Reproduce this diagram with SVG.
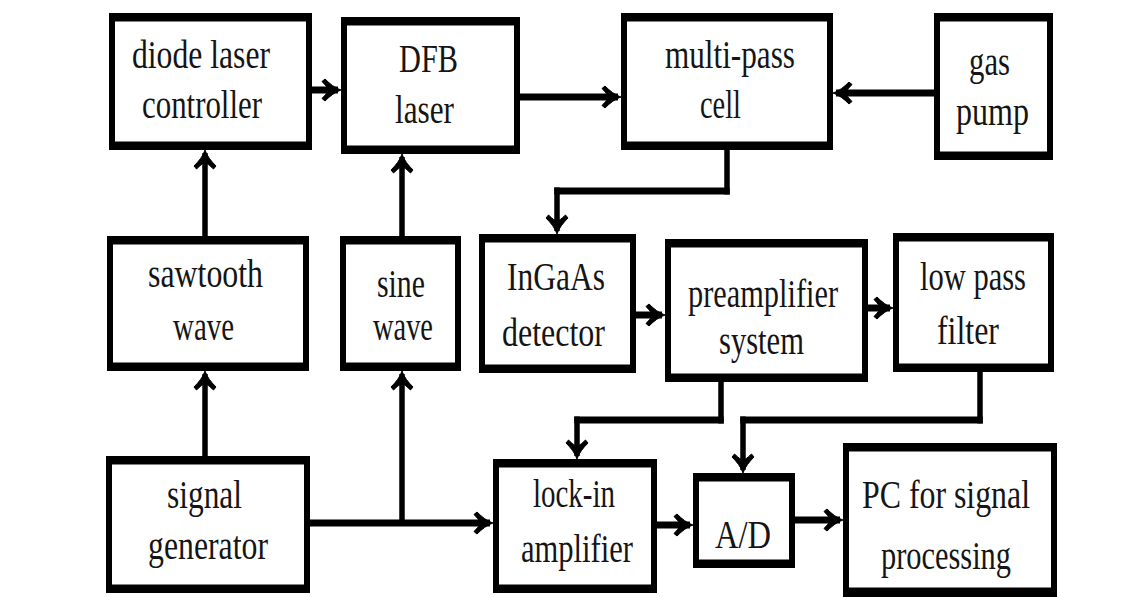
<svg xmlns="http://www.w3.org/2000/svg" width="1140" height="597" viewBox="0 0 1140 597">
  <style>
    .frame { fill: #000; }
    .face { fill: #fff; }
    .lbl { font-family: "Liberation Serif", "Times New Roman", serif; font-size: 39px; fill: #151515; }
    .h { stroke: #000; stroke-width: 7; fill: none; }
    .v { stroke: #000; stroke-width: 5.5; fill: none; }
    .arr { marker-end: url(#head); }
  </style>
  <defs>
    <!-- swept-barb arrowhead; its tip sits 3px past the end of the line -->
    <marker id="head" markerUnits="userSpaceOnUse" markerWidth="40" markerHeight="40" refX="0" refY="0" orient="auto" overflow="visible">
      <path d="M 3 0 C -3 -2 -8 -6 -13 -11 L -16 -8.5 C -12 -4 -10 -2 -10 0 C -10 2 -12 4 -16 8.5 L -13 11 C -8 6 -3 2 3 0 Z" fill="#000" stroke="#000" stroke-width="1" stroke-linejoin="round"/>
    </marker>
  </defs>
  <rect width="1140" height="597" fill="#fff"/>

  <!-- nodes: black frame with white face (thicker top/bottom borders) -->
  <g id="diode-laser-controller">
    <rect class="frame" x="109" y="13" width="203" height="137"/>
    <rect class="face" x="115" y="21.5" width="191" height="120"/>
    <text class="lbl" x="132" y="68" textLength="138" lengthAdjust="spacingAndGlyphs">diode laser</text>
    <text class="lbl" x="142" y="118" textLength="120" lengthAdjust="spacingAndGlyphs">controller</text>
  </g>
  <g id="dfb-laser">
    <rect class="frame" x="341" y="17" width="179" height="137"/>
    <rect class="face" x="347" y="25.5" width="167" height="120"/>
    <text class="lbl" x="399" y="72" textLength="59" lengthAdjust="spacingAndGlyphs">DFB</text>
    <text class="lbl" x="395" y="123" textLength="59" lengthAdjust="spacingAndGlyphs">laser</text>
  </g>
  <g id="multi-pass-cell">
    <rect class="frame" x="621" y="13" width="212" height="137"/>
    <rect class="face" x="627" y="21.5" width="200" height="120"/>
    <text class="lbl" x="665" y="68" textLength="130" lengthAdjust="spacingAndGlyphs">multi-pass</text>
    <text class="lbl" x="700" y="118" textLength="41" lengthAdjust="spacingAndGlyphs">cell</text>
  </g>
  <g id="gas-pump">
    <rect class="frame" x="934" y="13" width="119" height="147"/>
    <rect class="face" x="940" y="21.5" width="107" height="130"/>
    <text class="lbl" x="969" y="75" textLength="41" lengthAdjust="spacingAndGlyphs">gas</text>
    <text class="lbl" x="956" y="125" textLength="73" lengthAdjust="spacingAndGlyphs">pump</text>
  </g>
  <g id="sawtooth-wave">
    <rect class="frame" x="107" y="236" width="202" height="135"/>
    <rect class="face" x="113" y="244.5" width="190" height="118"/>
    <text class="lbl" x="148" y="287" textLength="115" lengthAdjust="spacingAndGlyphs">sawtooth</text>
    <text class="lbl" x="173" y="340" textLength="61" lengthAdjust="spacingAndGlyphs">wave</text>
  </g>
  <g id="sine-wave">
    <rect class="frame" x="340" y="236" width="121" height="135"/>
    <rect class="face" x="346" y="244.5" width="109" height="118"/>
    <text class="lbl" x="377" y="297" textLength="48" lengthAdjust="spacingAndGlyphs">sine</text>
    <text class="lbl" x="373" y="340" textLength="60" lengthAdjust="spacingAndGlyphs">wave</text>
  </g>
  <g id="ingaas-detector">
    <rect class="frame" x="479" y="234" width="157" height="139"/>
    <rect class="face" x="485" y="242.5" width="145" height="122"/>
    <text class="lbl" x="507" y="290" textLength="98" lengthAdjust="spacingAndGlyphs">InGaAs</text>
    <text class="lbl" x="502" y="346" textLength="103" lengthAdjust="spacingAndGlyphs">detector</text>
  </g>
  <g id="preamplifier-system">
    <rect class="frame" x="665" y="239" width="203" height="143"/>
    <rect class="face" x="671" y="247.5" width="191" height="126"/>
    <text class="lbl" x="688" y="307" textLength="150" lengthAdjust="spacingAndGlyphs">preamplifier</text>
    <text class="lbl" x="719" y="354" textLength="85" lengthAdjust="spacingAndGlyphs">system</text>
  </g>
  <g id="low-pass-filter">
    <rect class="frame" x="893" y="233" width="161" height="139"/>
    <rect class="face" x="899" y="241.5" width="149" height="122"/>
    <text class="lbl" x="920" y="290" textLength="106" lengthAdjust="spacingAndGlyphs">low pass</text>
    <text class="lbl" x="937" y="344" textLength="62" lengthAdjust="spacingAndGlyphs">filter</text>
  </g>
  <g id="signal-generator">
    <rect class="frame" x="106" y="456" width="204" height="137"/>
    <rect class="face" x="112" y="464.5" width="192" height="120"/>
    <text class="lbl" x="167" y="508" textLength="75" lengthAdjust="spacingAndGlyphs">signal</text>
    <text class="lbl" x="148" y="559" textLength="120" lengthAdjust="spacingAndGlyphs">generator</text>
  </g>
  <g id="lock-in-amplifier">
    <rect class="frame" x="493" y="459" width="164" height="134"/>
    <rect class="face" x="499" y="467.5" width="152" height="117"/>
    <text class="lbl" x="533" y="507" textLength="82" lengthAdjust="spacingAndGlyphs">lock-in</text>
    <text class="lbl" x="521" y="562" textLength="112" lengthAdjust="spacingAndGlyphs">amplifier</text>
  </g>
  <g id="a-d-converter">
    <rect class="frame" x="693" y="473" width="102" height="95"/>
    <rect class="face" x="699" y="481.5" width="90" height="78"/>
    <text class="lbl" x="715" y="548" textLength="56" lengthAdjust="spacingAndGlyphs">A/D</text>
  </g>
  <g id="pc-signal-processing">
    <rect class="frame" x="843" y="443" width="214" height="154"/>
    <rect class="face" x="849" y="451.5" width="202" height="136"/>
    <text class="lbl" x="862" y="508" textLength="168" lengthAdjust="spacingAndGlyphs">PC for signal</text>
    <text class="lbl" x="881" y="569" textLength="130" lengthAdjust="spacingAndGlyphs">processing</text>
  </g>

  <!-- connectors: horizontal runs 7px, vertical runs 5.5px -->
  <g id="connectors">
    <line class="h arr" x1="312" y1="90" x2="338" y2="90"/>
    <line class="h arr" x1="520" y1="97" x2="618" y2="97"/>
    <line class="h arr" x1="934" y1="93" x2="836" y2="93"/>
    <!-- multi-pass cell down to detector -->
    <line class="v" x1="727" y1="150" x2="727" y2="194.5"/>
    <line class="h" x1="729.75" y1="191" x2="554.25" y2="191"/>
    <line class="v arr" x1="557" y1="187.5" x2="557" y2="231"/>
    <!-- waveforms up to laser drivers -->
    <line class="v arr" x1="205" y1="236" x2="205" y2="153"/>
    <line class="v arr" x1="402" y1="236" x2="402" y2="157"/>
    <!-- signal generator outputs -->
    <line class="v arr" x1="205" y1="456" x2="205" y2="374"/>
    <line class="h arr" x1="310" y1="523" x2="490" y2="523"/>
    <line class="v arr" x1="402" y1="523" x2="402" y2="374"/>
    <!-- detection chain -->
    <line class="h arr" x1="636" y1="315" x2="662" y2="315"/>
    <line class="h arr" x1="868" y1="308" x2="890" y2="308"/>
    <line class="v" x1="721" y1="382" x2="721" y2="423.5"/>
    <line class="h" x1="723.75" y1="420" x2="574.25" y2="420"/>
    <line class="v arr" x1="577" y1="416.5" x2="577" y2="456"/>
    <line class="v" x1="980" y1="372" x2="980" y2="423.5"/>
    <line class="h" x1="982.75" y1="420" x2="740.25" y2="420"/>
    <line class="v arr" x1="743" y1="416.5" x2="743" y2="470"/>
    <line class="h arr" x1="657" y1="525" x2="690" y2="525"/>
    <line class="h arr" x1="795" y1="520" x2="840" y2="520"/>
  </g>
</svg>
